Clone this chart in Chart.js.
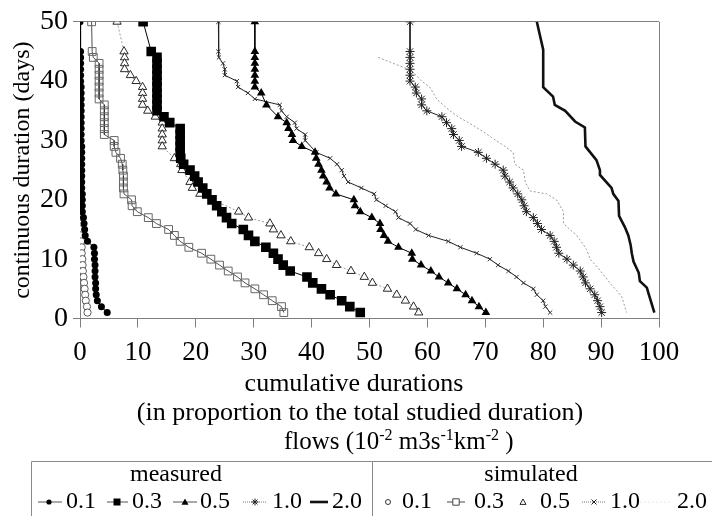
<!DOCTYPE html>
<html>
<head>
<meta charset="utf-8">
<script src="https://cdn.jsdelivr.net/npm/chart.js@4.4.1/dist/chart.umd.min.js"></script>
<style>
  html, body { margin: 0; padding: 0; background: #fff; }
</style>
</head>
<body>
<canvas id="myChart" width="712" height="516"></canvas>
<script>
// continuous duration (days) vs cumulative duration (%)
const m01Days = [50,45,44,43,42,41,40,39,38,37,36,35,34,33,32,31,30,29,28,27,26,25,24,23,22,21,20,19,18,17,16,15,14,13,12,11,10,9,8,7,6,5,4,3,2,1];
const m01Vals = [0,0.1,0.1,0.1,0.1,0.1,0.1,0.2,0.2,0.2,0.2,0.2,0.2,0.2,0.2,0.2,0.2,0.3,0.3,0.3,0.3,0.3,0.3,0.3,0.3,0.4,0.4,0.4,0.4,0.6,0.7,0.8,0.9,1.3,2.4,2.5,2.5,2.6,2.6,2.6,2.7,2.7,2.8,3.0,3.7,4.7];

const m03Days = [50,45,44,43,42,41,40,39,38,37,36,35,34,33,32,31,30,29,28,27,26,25,24,23,22,21,20,19,18,17,16,15,14,13,12,11,10,9,8,7,6,5,4,3,2,1];
const m03Vals = [10.9,12.3,13.3,13.3,13.3,13.3,13.3,13.3,13.3,13.3,13.3,13.3,14.5,15.5,17.3,17.3,17.3,17.3,17.3,17.4,17.9,19.0,19.8,20.4,21.2,21.9,22.8,23.6,24.5,25.3,26.2,28.2,29.1,30.2,32.1,33.4,34.2,35.1,36.3,39.2,40.2,41.7,43.2,45.2,46.6,48.4];

const m05Days = [50,45,44,43,42,41,40,39,38,36,34,33,32,31,30,29,28,27,26,25,24,23,22,21,20,19,18,17,16,15,14,13,12,11,10,9,8,7,6,5,4,3,2,1];
const m05Vals = [30.2,30.2,30.2,30.2,30.2,30.2,30.2,30.2,31.3,32.2,34.2,35.7,36.0,36.6,36.8,38.3,40.6,40.8,41.2,41.7,42.0,42.6,43.1,44.2,47.3,47.5,48.4,50.4,51.8,51.9,52.5,53.2,55.0,57.3,57.4,58.9,60.6,62.0,63.6,65.1,66.6,67.7,68.9,70.1];

const m10Days = [50,45,44,43,42,41,40,39,38,37,36,35,34,33,32,31,30,29,28,27,26,25,24,23,22,21,20,19,18,17,16,15,14,13,12,11,10,9,8,7,6,5,4,3,2,1];
const m10Vals = [57.0,57.0,57.0,57.0,57.0,57.0,57.0,57.9,58.1,59.0,59.0,59.9,62.5,63.3,64.2,64.5,65.5,65.9,68.8,70.2,71.7,73.1,73.4,74.2,74.8,75.6,76.3,76.7,77.1,78.3,79.0,79.7,81.2,81.9,82.3,82.7,84.1,85.2,86.4,86.9,87.3,88.1,88.9,89.4,89.8,90.1];

const m20Days = [50,45.3,39,37.4,36,35,33.2,32.2,29,26.7,25,24.2,22,21,19.8,17.3,15.4,14,12.4,11,9.6,7.7,6.3,5.2,4.2,1];
const m20Vals = [78.9,80.0,80.0,81.7,82.0,83.8,85.5,87.2,87.3,89.2,89.8,89.8,91.8,92.1,93.0,93.1,94.1,94.7,95.1,95.3,95.6,96.5,96.7,97.9,98.2,99.2];

const s01Days = [17,16,15,14,13,12,11,10,9,8,7,6,5,4,3,2,1];
const s01Vals = [0.0,0.0,0.1,0.1,0.2,0.3,0.3,0.4,0.45,0.5,0.6,0.7,0.8,0.9,1.0,1.2,1.3];

const s03Days = [50,45,44,43,42,41,40,39,38,37,36,35,34,33,32,31,30,29,28,27,26,25,24,23,22,21,20,19,18,17,16,15,14,13,12,11,10,9,8,7,6,5,4,3,2,1];
const s03Vals = [2.0,2.1,2.3,3.3,3.3,3.3,3.3,3.3,3.3,3.3,4.2,4.2,4.2,4.2,4.2,4.2,5.9,5.9,6.2,7.0,7.3,7.4,7.5,7.5,7.5,7.6,8.9,9.0,9.9,11.8,13.2,15.3,16.3,17.3,18.8,21.0,22.6,24.1,25.6,27.2,28.5,30.2,31.7,33.2,34.8,35.2];

const s05Days = [50,45,44,43,42,41,40,39,38,37,36,35,34,33,32,31,30,29,27,26,25,23,22,21,18,17,16,15,14,13,12,11,10,9,8,7,6,5,4,3,2,1];
const s05Vals = [6.4,7.6,7.7,7.7,7.7,8.7,9.7,10.8,10.8,10.8,10.8,11.7,13.0,14.2,14.2,14.2,14.2,14.2,16.3,17.4,17.6,19.0,19.4,20.7,27.4,29.1,32.8,33.4,34.7,36.4,39.6,41.2,42.6,44.3,46.8,49.1,50.5,53.1,54.7,56.2,57.6,58.5];

const s10Days = [50,45,44,43,42,41,40,39,38,37,36,35,34,33,32,31,30,28,27,26,25,24,23,22,21,20,19,18,17,16,15,14,13,12,11,10,9,8,7,6,5,4,3,2,1];
const s10Vals = [23.9,23.9,24.0,24.7,25.0,25.0,27.1,27.3,29.0,30.2,34.5,34.8,35.7,37.1,37.4,38.9,38.9,40.8,43.2,44.4,45.2,45.6,46.3,48.6,50.8,51.2,52.8,54.5,55.0,57.0,58.0,60.2,63.6,65.7,68.5,70.8,72.2,74.0,75.4,76.6,78.3,78.9,80.0,80.4,81.2];

const s20Days = [44,43,42,41,40,39,37,36,35,34,33,32,30.5,29,28,26,25,23,21.5,21,20,18,16,15,14,12.5,11.6,10,8.5,7,6,4.7,3.6,1];
const s20Vals = [51.5,54.1,56.7,58.1,59.0,60.4,61.6,62.7,63.9,65.3,67.1,68.8,71.1,73.4,74.8,75.1,76.6,76.9,77.7,80.6,82.3,83.5,83.5,84.6,85.8,86.9,87.5,88.1,89.5,90.7,91.5,92.7,93.6,94.4];

const xTicks = [0,10,20,30,40,50,60,70,80,90,100];
const yTicks = [0,5,10,15,20,25,30,35,40,45,50];

const FONT = '"Liberation Serif", "Times New Roman", serif';
const GRID = '#7f7f7f';

const pts = (xs, ys) => xs.map((x, i) => ({ x: x, y: ys[i] }));

const datasets = [
  { label: 'm0.1', data: pts(m01Vals, m01Days), borderColor: '#000', borderWidth: 1,
    pointStyle: 'circle', pointRadius: 3.5, pointBackgroundColor: '#000', pointBorderColor: '#000', pointBorderWidth: 0 },
  { label: 'm0.3', data: pts(m03Vals, m03Days), borderColor: '#000', borderWidth: 1,
    pointStyle: 'rect', pointRadius: 6.8, pointBackgroundColor: '#000', pointBorderColor: '#000', pointBorderWidth: 0 },
  { label: 'm0.5', data: pts(m05Vals, m05Days), borderColor: '#000', borderWidth: 1,
    pointStyle: 'triangle', pointRadius: 5, pointBackgroundColor: '#000', pointBorderColor: '#000', pointBorderWidth: 0 },
  { label: 'm1.0', data: pts(m10Vals, m10Days), borderColor: '#222', borderWidth: 1,
    pointStyle: 'star', pointRadius: 4.5, pointBackgroundColor: '#fff', pointBorderColor: '#222', pointBorderWidth: 1 },
  { label: 'm2.0', data: pts(m20Vals, m20Days), borderColor: '#111', borderWidth: 2.6, pointRadius: 0 },
  { label: 's0.1', data: pts(s01Vals, s01Days), showLine: false,
    pointStyle: 'circle', pointRadius: 3.6, pointBackgroundColor: '#fff', pointBorderColor: '#333', pointBorderWidth: 0.8 },
  { label: 's0.3', data: pts(s03Vals, s03Days), borderColor: '#222', borderWidth: 0.8,
    pointStyle: 'rect', pointRadius: 5.5, pointBackgroundColor: 'rgba(255,255,255,0)', pointBorderColor: '#666', pointBorderWidth: 1 },
  { label: 's0.5', data: pts(s05Vals, s05Days), borderColor: '#999', borderWidth: 1, borderDash: [2, 2],
    pointStyle: 'triangle', pointRadius: 4.8, pointBackgroundColor: '#fff', pointBorderColor: '#111', pointBorderWidth: 0.9 },
  { label: 's1.0', data: pts(s10Vals, s10Days), borderColor: '#222', borderWidth: 1,
    pointStyle: 'crossRot', pointRadius: 3, pointBorderColor: '#333', pointBorderWidth: 1 },
  { label: 's2.0', data: pts(s20Vals, s20Days), borderColor: '#9a9a9a', borderWidth: 1, borderDash: [2, 2], pointRadius: 0 }
];

// legend marker drawing
function marker(ctx, style, x, y, r, fill, stroke) {
  ctx.save();
  ctx.fillStyle = fill;
  ctx.strokeStyle = stroke;
  ctx.lineWidth = 1;
  ctx.beginPath();
  if (style === 'circle') {
    ctx.arc(x, y, r, 0, Math.PI * 2);
  } else if (style === 'rect') {
    ctx.rect(x - r, y - r, 2 * r, 2 * r);
  } else if (style === 'triangle') {
    ctx.moveTo(x, y - r);
    ctx.lineTo(x + r, y + r * 0.8);
    ctx.lineTo(x - r, y + r * 0.8);
    ctx.closePath();
  } else if (style === 'star') {
    ctx.moveTo(x - r, y); ctx.lineTo(x + r, y);
    ctx.moveTo(x - r * 0.7, y - r * 0.7); ctx.lineTo(x + r * 0.7, y + r * 0.7);
    ctx.moveTo(x - r * 0.7, y + r * 0.7); ctx.lineTo(x + r * 0.7, y - r * 0.7);
    ctx.moveTo(x, y - r); ctx.lineTo(x, y + r);
  } else if (style === 'crossRot') {
    ctx.moveTo(x - r, y - r); ctx.lineTo(x + r, y + r);
    ctx.moveTo(x - r, y + r); ctx.lineTo(x + r, y - r);
  }
  if (fill) ctx.fill();
  if (stroke) ctx.stroke();
  ctx.restore();
}

function seg(ctx, x1, x2, y, w, color, dash) {
  ctx.save();
  ctx.strokeStyle = color;
  ctx.lineWidth = w;
  ctx.setLineDash(dash || []);
  ctx.beginPath();
  ctx.moveTo(x1, y);
  ctx.lineTo(x2, y);
  ctx.stroke();
  ctx.restore();
}

const bottomText = {
  id: 'bottomText',
  afterDraw(chart) {
    const ctx = chart.ctx;
    ctx.save();
    ctx.fillStyle = '#000';
    ctx.textBaseline = 'middle';
    ctx.font = '26px ' + FONT;
    ctx.textAlign = 'center';
    ctx.fillText('cumulative durations', 354, 384);
    ctx.fillText('(in proportion to the total studied duration)', 360, 413);

    // flows line with superscripts
    ctx.textAlign = 'left';
    const parts = [['flows (10', 0], ['-2', 1], [' m3s', 0], ['-1', 1], ['km', 0], ['-2', 1], [' )', 0]];
    let x = 284;
    parts.forEach(([t, sup]) => {
      ctx.font = (sup ? '16px ' : '25px ') + FONT;
      ctx.fillText(t, x, sup ? 436 : 442);
      x += ctx.measureText(t).width;
    });

    // legend box
    ctx.strokeStyle = '#8a8a8a';
    ctx.lineWidth = 1;
    ctx.beginPath();
    ctx.moveTo(31.5, 516); ctx.lineTo(31.5, 461.5); ctx.lineTo(712, 461.5);
    ctx.moveTo(372.5, 461.5); ctx.lineTo(372.5, 516);
    ctx.stroke();

    ctx.font = '24px ' + FONT;
    ctx.textAlign = 'center';
    ctx.fillText('measured', 176, 475);
    ctx.fillText('simulated', 531, 475);

    const ly = 502;
    ctx.textAlign = 'left';
    // measured
    seg(ctx, 38, 62, ly, 1, '#555');
    marker(ctx, 'circle', 49, ly, 2.6, '#000', null);
    ctx.fillText('0.1', 66, ly);
    seg(ctx, 107, 128, ly, 1, '#555');
    marker(ctx, 'rect', 117, ly, 3.5, '#000', null);
    ctx.fillText('0.3', 132, ly);
    seg(ctx, 173, 197, ly, 1, '#555');
    marker(ctx, 'triangle', 185, ly, 3.5, '#000', null);
    ctx.fillText('0.5', 200, ly);
    seg(ctx, 243, 267, ly, 1, '#777', [1, 1]);
    marker(ctx, 'star', 255, ly, 3.5, null, '#222');
    ctx.fillText('1.0', 272, ly);
    seg(ctx, 310, 328, ly, 2.6, '#111');
    ctx.fillText('2.0', 332, ly);
    // simulated
    marker(ctx, 'circle', 388, ly, 2.5, '#fff', '#333');
    ctx.fillText('0.1', 402, ly);
    seg(ctx, 447, 465, ly, 1, '#444');
    marker(ctx, 'rect', 456, ly, 3.2, '#fff', '#444');
    ctx.fillText('0.3', 474, ly);
    marker(ctx, 'triangle', 523, ly, 3, '#fff', '#222');
    ctx.fillText('0.5', 540, ly);
    seg(ctx, 582, 605, ly, 1, '#777', [1, 1]);
    marker(ctx, 'crossRot', 594, ly, 2.5, null, '#222');
    ctx.fillText('1.0', 610, ly);
    seg(ctx, 640, 670, ly, 1, '#e6e6e6', [2, 2]);
    ctx.fillText('2.0', 677, ly);
    ctx.restore();
  }
};

const ctx = document.getElementById('myChart').getContext('2d');
const myChart = new Chart(ctx, {
  type: 'line',
  data: { datasets: datasets },
  plugins: [bottomText],
  options: {
    responsive: false,
    animation: false,
    devicePixelRatio: 1,
    layout: { padding: { top: 15, right: 53, left: 0, bottom: 0 } },
    plugins: { legend: { display: false }, tooltip: { enabled: false } },
    elements: { line: { tension: 0 } },
    scales: {
      x: {
        type: 'linear',
        min: 0,
        max: 100,
        afterBuildTicks: (s) => { s.ticks = xTicks.map(v => ({ value: v })); },
        afterFit: (s) => { s.height = 197.5; },
        ticks: { color: '#000', font: { family: FONT, size: 27 }, padding: 9, maxRotation: 0 },
        grid: {
          color: (c) => (c.tick && c.tick.value === 100 ? GRID : 'rgba(0,0,0,0)'),
          tickColor: GRID,
          tickLength: 9,
          lineWidth: 1
        },
        border: { display: true, color: GRID }
      },
      y: {
        min: 0,
        max: 50,
        afterBuildTicks: (s) => { s.ticks = yTicks.map(v => ({ value: v })); },
        afterFit: (s) => { s.width = 80; },
        ticks: { color: '#000', font: { family: FONT, size: 28 }, padding: 5 },
        grid: {
          color: (c) => (c.tick && (c.tick.value === 0 || c.tick.value === 50) ? GRID : 'rgba(0,0,0,0)'),
          tickLength: 7,
          lineWidth: 1
        },
        border: { display: true, color: GRID },
        title: {
          display: true,
          text: 'continuous duration (days)',
          color: '#000',
          font: { family: FONT, size: 24 },
          padding: { top: 8, bottom: 0 }
        }
      }
    }
  }
});
</script>
</body>
</html>
